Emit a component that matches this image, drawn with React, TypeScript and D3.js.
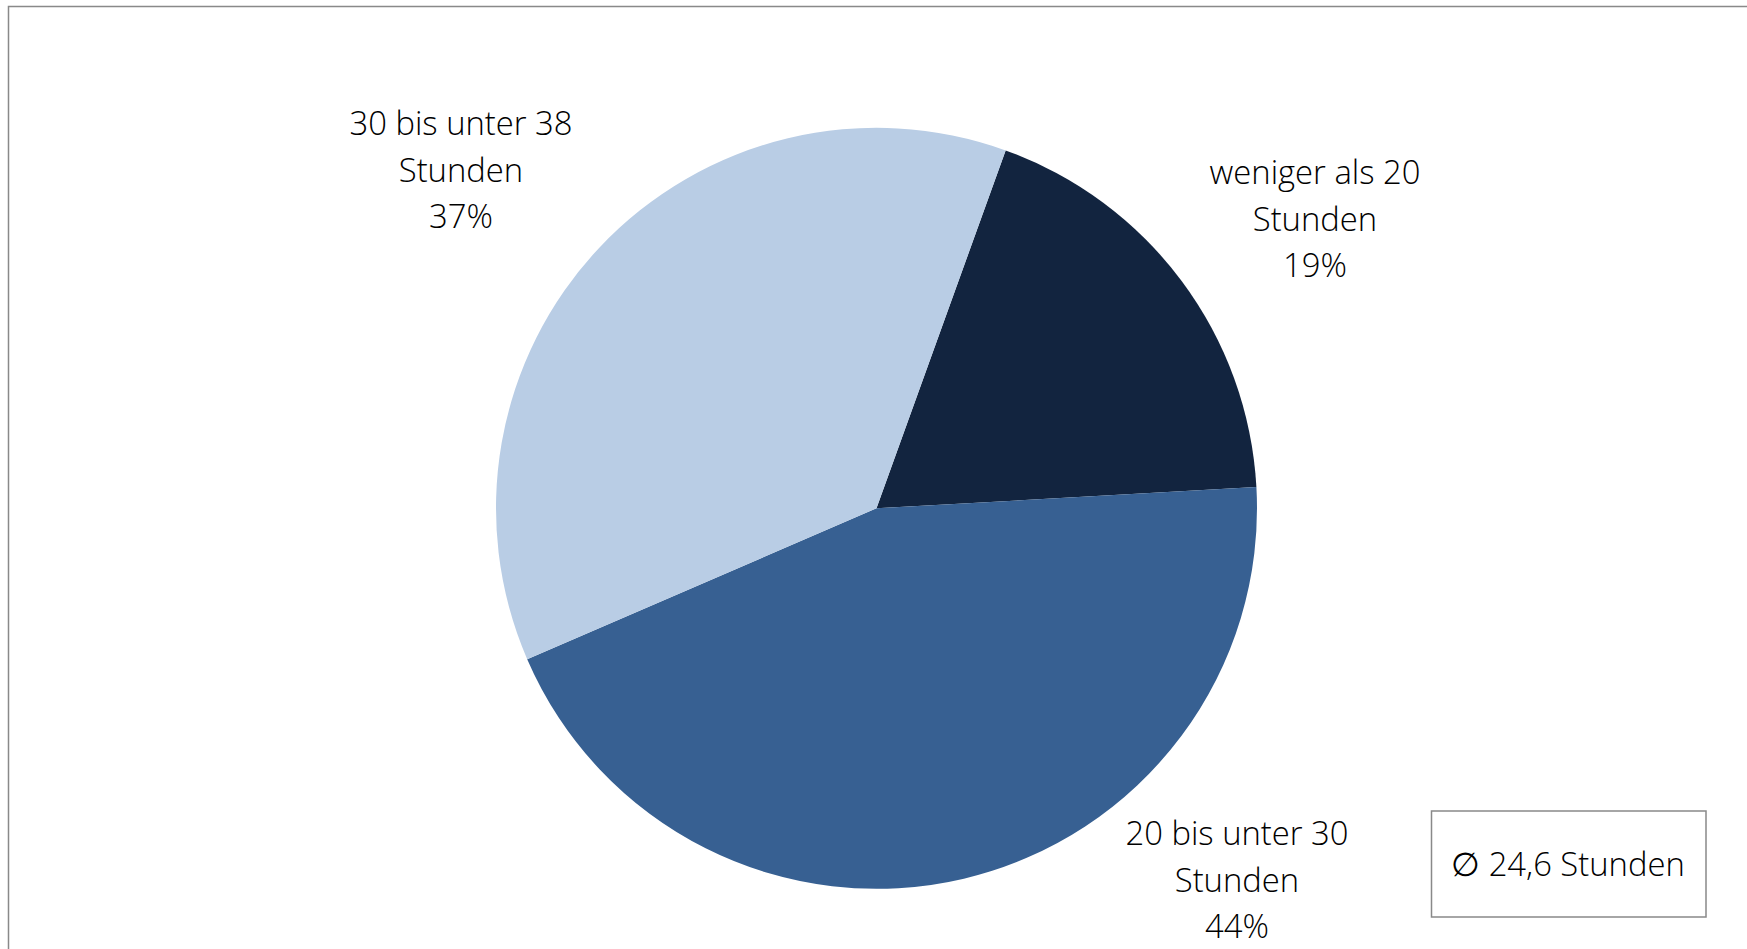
import React from "react";
import * as d3 from "d3";

const categories = ["weniger als 20 Stunden", "20 bis unter 30 Stunden", "30 bis unter 38 Stunden"];
const labelLines = [
  ["weniger als 20", "Stunden", "19%"],
  ["20 bis unter 30", "Stunden", "44%"],
  ["30 bis unter 38", "Stunden", "37%"],
];
const values = [18.6, 44.4, 37.0];
const colors = ["#12243F", "#376092", "#B9CDE5"];
const labelPos = [
  [1315, 172],
  [1237, 833],
  [461, 123],
];
const averageText = "\u2205 24,6 Stunden";

const W = 1747;
const H = 949;
const cx = 876.5;
const cy = 508.3;
const R = 380.5;
const startDeg = 19.84;
const FONT = "'Open Sans', 'Segoe UI', sans-serif";

export default function App() {
  const pie = d3
    .pie<number>()
    .sort(null)
    .startAngle((startDeg * Math.PI) / 180)
    .endAngle((startDeg * Math.PI) / 180 + 2 * Math.PI);
  const arcs = pie(values);
  const arc = d3.arc<d3.PieArcDatum<number>>().innerRadius(0).outerRadius(R);
  const lineH = 46.5;
  const fs = 32.8;
  return (
    <svg
      width={W}
      height={H}
      style={{ position: "absolute", left: 0, top: 0, display: "block", background: "#fff" }}
    >
      <rect x={8.5} y={6.5} width={W + 20} height={H + 20} fill="#fff" stroke="#898989" strokeWidth={1.5} />
      <g transform={`translate(${cx},${cy})`}>
        {arcs.map((a, i) => (
          <path key={categories[i]} d={arc(a) || ""} fill={colors[i]} />
        ))}
      </g>
      {labelLines.map((lines, i) => (
        <text
          key={categories[i]}
          x={labelPos[i][0]}
          y={labelPos[i][1] + 12}
          textAnchor="middle"
          fontFamily={FONT}
          fontWeight={300}
          fontSize={fs}
          fill="#000"
        >
          {lines.map((l, j) => (
            <tspan key={j} x={labelPos[i][0]} y={labelPos[i][1] + 12 + j * lineH}>
              {l}
            </tspan>
          ))}
        </text>
      ))}
      <rect x={1431.5} y={811} width={274.5} height={106} fill="#fff" stroke="#898989" strokeWidth={1.5} />
      <text
        x={1568}
        y={864 + 12}
        textAnchor="middle"
        fontFamily={FONT}
        fontWeight={300}
        fontSize={fs}
        fill="#000"
      >
        {averageText}
      </text>
    </svg>
  );
}
